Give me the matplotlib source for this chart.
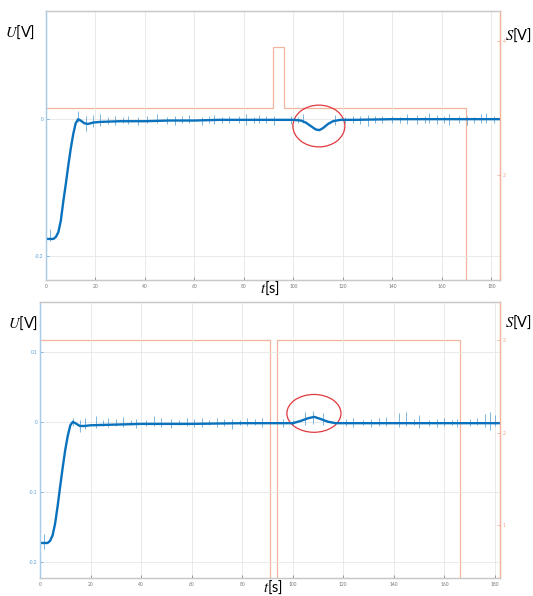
import matplotlib
matplotlib.use("Agg")
import matplotlib.pyplot as plt
from matplotlib.patches import Ellipse

# ---- data ----
x_ticks = [0, 20, 40, 60, 80, 100, 120, 140, 160, 180]

# top panel: U signal (trend) and spikes
u1_t = [0, 3, 4, 5, 6, 7, 8, 9, 10, 11, 12, 13, 14, 15.5, 17, 19, 22, 30, 40, 50,
        60, 70, 80, 90, 100, 103, 105, 107, 109, 110.5, 112, 114, 116, 119, 125,
        140, 160, 183.5]
u1_v = [-0.175, -0.175, -0.172, -0.165, -0.148, -0.12, -0.095, -0.068, -0.043,
        -0.022, -0.006, 0.0, -0.002, -0.006, -0.007, -0.005, -0.004, -0.003,
        -0.003, -0.002, -0.002, -0.001, -0.001, -0.001, -0.001, -0.002, -0.005,
        -0.010, -0.015, -0.016, -0.013, -0.007, -0.003, -0.001, -0.001, 0.0, 0.0, 0.0]
sp1_t = [1.5, 13, 16, 19, 22, 25, 28, 31, 33, 37, 41, 45, 49, 52, 55, 58, 63, 66,
         68, 71, 74, 78, 81, 84, 86, 89, 92, 99, 102, 104, 117, 121, 124, 127, 130,
         133, 136, 140, 143, 146, 150, 153, 155, 158, 161, 163, 167, 170, 173, 176,
         178, 181]
sp1_hi = [-0.160, 0.012, 0.004, 0.006, 0.008, 0.003, 0.004, 0.003, 0.005, 0.003,
          0.004, 0.007, 0.003, 0.004, 0.005, 0.006, 0.003, 0.004, 0.006, 0.003,
          0.005, 0.004, 0.008, 0.003, 0.006, 0.004, 0.005, 0.004, 0.003, 0.007,
          0.006, 0.003, 0.004, 0.005, 0.006, 0.004, 0.005, 0.004, 0.003, 0.008,
          0.006, 0.004, 0.009, 0.006, 0.005, 0.007, 0.004, 0.004, 0.003, 0.008,
          0.009, 0.005]
sp1_lo = [-0.178, -0.004, -0.018, -0.012, -0.010, -0.007, -0.009, -0.006, -0.007,
          -0.008, -0.005, -0.006, -0.007, -0.009, -0.005, -0.006, -0.008, -0.005,
          -0.007, -0.006, -0.006, -0.005, -0.009, -0.006, -0.006, -0.005, -0.008,
          -0.007, -0.005, -0.006, -0.008, -0.005, -0.006, -0.007, -0.010, -0.005,
          -0.006, -0.006, -0.005, -0.007, -0.007, -0.005, -0.006, -0.007, -0.005,
          -0.009, -0.006, -0.008, -0.005, -0.006, -0.006, -0.005]
s1_t = [0, 91.7, 91.7, 96.2, 96.2, 169.7, 169.7]
s1_v = [3.0, 3.0, 3.91, 3.91, 3.0, 3.0, 0.0]

# bottom panel
u2_t = [0, 3, 4, 5, 6, 7, 8, 9, 10, 11, 12, 13, 14, 15.8, 17.5, 20, 30, 40, 60,
        80, 95, 100, 103, 106, 108.5, 111, 114, 117, 120, 140, 160, 182]
u2_v = [-0.173, -0.173, -0.170, -0.162, -0.145, -0.12, -0.092, -0.065, -0.040,
        -0.020, -0.005, 0.0, -0.002, -0.006, -0.006, -0.005, -0.004, -0.003,
        -0.003, -0.002, -0.002, -0.002, 0.001, 0.005, 0.007, 0.004, 0.0, -0.002,
        -0.002, -0.002, -0.002, -0.002]
sp2_t = [1.5, 13, 16, 18, 22, 25, 27, 30, 33, 36, 38, 42, 45, 48, 52, 55, 58, 61,
         64, 67, 70, 73, 76, 79, 82, 85, 88, 96, 100, 105, 108, 112, 121, 124, 128,
         131, 134, 137, 142, 145, 148, 150, 154, 157, 160, 163, 165, 170, 173, 176,
         178, 180]
sp2_hi = [-0.160, 0.006, 0.003, 0.006, 0.008, 0.003, 0.005, 0.004, 0.007, 0.003,
          0.004, 0.003, 0.008, 0.005, 0.004, 0.003, 0.006, 0.004, 0.005, 0.003,
          0.006, 0.004, 0.004, 0.003, 0.006, 0.004, 0.005, 0.004, 0.003, 0.014,
          0.016, 0.012, 0.004, 0.006, 0.003, 0.004, 0.005, 0.007, 0.012, 0.014,
          0.004, 0.010, 0.003, 0.004, 0.006, 0.003, 0.004, 0.004, 0.005, 0.011,
          0.014, 0.010]
sp2_lo = [-0.182, -0.006, -0.014, -0.010, -0.009, -0.006, -0.008, -0.006, -0.007,
          -0.005, -0.009, -0.006, -0.006, -0.008, -0.009, -0.005, -0.006, -0.007,
          -0.008, -0.005, -0.007, -0.006, -0.010, -0.005, -0.006, -0.005, -0.008,
          -0.007, -0.005, -0.004, -0.003, -0.005, -0.006, -0.008, -0.005, -0.007,
          -0.006, -0.006, -0.008, -0.006, -0.005, -0.009, -0.006, -0.008, -0.006,
          -0.005, -0.007, -0.006, -0.005, -0.007, -0.012, -0.006]
s2_t = [0, 91.2, 91.2, 93.6, 93.6, 166.1, 166.1]
s2_v = [3.0, 3.0, 0.0, 0.0, 3.0, 3.0, 0.0]

# ---- styling ----
BLUE = "#0a72bd"
SPIKE = "#4a98d4"
SCOL = "#f2b49c"
GRIDC = "#e6e6e6"
plt.rcParams["mathtext.fontset"] = "stix"
plt.rcParams["font.family"] = ["Lato", "DejaVu Sans"]

fig = plt.figure(figsize=(5.33, 5.96), dpi=100)


def panel(rect, xmax, ylim, yticks, ylabels, slim, sticks, ut, uv, st, sv, spt, sphi, splo, circ):
    ax = fig.add_axes(rect)
    ax2 = ax.twinx()
    ax.set_zorder(ax2.get_zorder() + 1)
    ax.patch.set_visible(False)

    ax2.plot(st, sv, color=SCOL, lw=0.9, solid_joinstyle="miter")
    ax.vlines(spt, splo, sphi, color=SPIKE, lw=0.5)
    ax.plot(ut, uv, color=BLUE, lw=1.7)
    ax.add_patch(Ellipse(circ[:2], circ[2], circ[3], fill=False, ec="#e0393e", lw=0.9))

    ax.set_xlim(0, xmax)
    ax.set_ylim(*ylim)
    ax2.set_ylim(*slim)
    ax.set_xticks(x_ticks)
    ax.set_xticklabels([str(v) for v in x_ticks])
    ax.set_yticks(yticks)
    ax.set_yticklabels(ylabels)
    ax2.set_yticks(sticks)
    ax2.set_yticklabels([str(v) for v in sticks])
    ax.grid(True, color=GRIDC, lw=0.6)
    ax.set_axisbelow(True)

    ax.tick_params(axis="x", direction="in", length=2.5, width=0.5, labelsize=3.5,
                   colors="#777777", pad=3)
    ax.tick_params(axis="y", direction="in", length=2.5, width=0.5, labelsize=3.5,
                   colors="#5a9fd4", pad=2)
    ax2.tick_params(axis="y", direction="in", length=2.5, width=0.5, labelsize=3.5,
                    colors="#e9a080", pad=2)
    for a in (ax, ax2):
        a.spines["top"].set_color("#c8c8c8")
        a.spines["bottom"].set_color("#c8c8c8")
        a.spines["left"].set_color("#a9cbe8")
        a.spines["right"].set_color(SCOL)
        for s in a.spines.values():
            s.set_linewidth(0.9)
    return ax


panel([0.0863, 0.5302, 0.8518, 0.4513], 183.5, (-0.235, 0.158), [-0.2, 0], ["-0.2", "0"],
      (0.433, 4.45), [2, 4], u1_t, u1_v, s1_t, s1_v, sp1_t, sp1_hi, sp1_lo,
      (110.3, -0.010, 21.0, 0.061))
panel([0.0750, 0.0302, 0.8630, 0.4631], 182.0, (-0.223, 0.171), [-0.2, -0.1, 0, 0.1],
      ["-0.2", "-0.1", "0", "0.1"], (0.43, 3.41), [1, 2, 3], u2_t, u2_v, s2_t, s2_v,
      sp2_t, sp2_hi, sp2_lo, (108.4, 0.012, 21.4, 0.054))

lab = dict(fontsize=10.5, color="black", va="center")
fig.text(5 / 533, 1 - 32 / 596, r"$U$[V]", ha="left", **lab)
fig.text(505 / 533, 1 - 35 / 596, r"$S$[V]", ha="left", **lab)
fig.text(8 / 533, 1 - 323 / 596, r"$U$[V]", ha="left", **lab)
fig.text(505 / 533, 1 - 322 / 596, r"$S$[V]", ha="left", **lab)
fig.text(270 / 533, 1 - 288 / 596, r"$t$[s]", ha="center", **lab)
fig.text(273 / 533, 1 - 587 / 596, r"$t$[s]", ha="center", **lab)

fig.savefig("out.png", dpi=100)
